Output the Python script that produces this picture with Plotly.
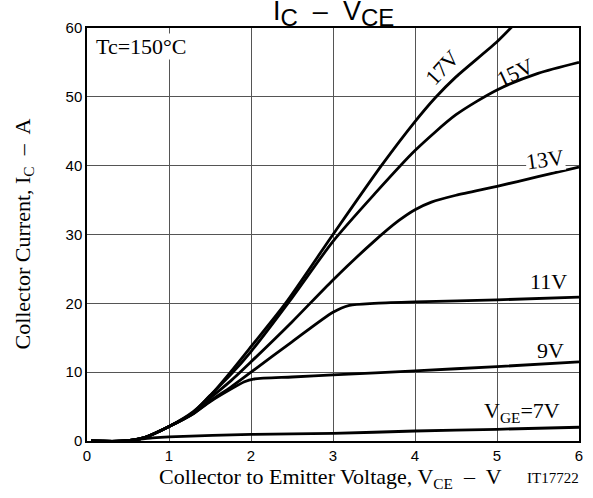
import plotly.graph_objects as go

# ---- data ----
x_17 = [0.05, 0.45, 0.7, 1.0, 1.3, 1.55, 1.75, 2.0, 2.42, 3.0, 3.59, 4.0, 4.25, 4.5, 5.0, 5.2]
y_17 = [0.0, 0.0, 0.5, 2.1, 4.3, 7.2, 10.0, 13.7, 20.0, 30.0, 40.0, 46.4, 49.9, 52.9, 58.0, 60.4]

x_15 = [0.05, 0.45, 0.7, 1.0, 1.3, 1.5, 1.75, 2.0, 2.5, 3.0, 3.5, 4.0, 4.5, 5.0, 5.5, 6.0]
y_15 = [0.0, 0.0, 0.5, 2.1, 4.2, 6.6, 9.6, 13.0, 20.8, 29.0, 35.8, 42.2, 47.4, 51.0, 53.4, 55.0]

x_13 = [0.05, 0.45, 0.7, 1.0, 1.3, 1.5, 1.75, 2.0, 2.5, 3.0, 3.5, 3.8, 4.0, 4.2, 4.5, 5.0, 5.5, 6.0]
y_13 = [0.0, 0.0, 0.5, 2.1, 4.1, 6.2, 8.7, 11.5, 17.3, 23.4, 29.0, 32.0, 33.6, 34.7, 35.7, 37.0, 38.4, 39.8]

x_11 = [0.05, 0.45, 0.7, 1.0, 1.3, 1.5, 1.75, 2.0, 2.5, 3.0, 3.2, 3.5, 4.0, 5.0, 6.0]
y_11 = [0.0, 0.0, 0.5, 2.1, 4.0, 5.8, 7.8, 10.0, 14.4, 18.7, 19.7, 20.0, 20.2, 20.5, 20.9]

x_9 = [0.05, 0.45, 0.7, 1.0, 1.3, 1.5, 1.75, 1.92, 2.03, 2.5, 3.0, 4.0, 5.0, 6.0]
y_9 = [0.0, 0.0, 0.5, 2.1, 4.0, 5.7, 7.5, 8.6, 9.0, 9.3, 9.6, 10.2, 10.8, 11.5]

x_7 = [0.05, 0.45, 0.6, 0.8, 1.0, 2.0, 3.0, 4.0, 5.0, 6.0]
y_7 = [0.0, 0.0, 0.2, 0.45, 0.6, 0.95, 1.1, 1.45, 1.7, 2.0]

x_ticks = [0, 1, 2, 3, 4, 5, 6]
y_ticks = [0, 10, 20, 30, 40, 50, 60]

series = [(x_17, y_17), (x_15, y_15), (x_13, y_13), (x_11, y_11), (x_9, y_9), (x_7, y_7)]

SERIF = "Liberation Serif"
SANS = "Liberation Sans"
SZ = 22

fig = go.Figure()
for xs, ys in series:
    fig.add_trace(go.Scatter(x=xs, y=ys, mode="lines",
                             line=dict(color="black", width=2.8, shape="spline", smoothing=0.7),
                             showlegend=False, hoverinfo="skip"))

# curve labels
labels = [
    ("17V", 4.33, 54.3, -47, None),
    ("15V", 5.22, 53.6, -25, None),
    ("13V", 5.58, 40.9, -8, "white"),
    ("11V", 5.63, 23.1, 0, None),
    ("9V", 5.65, 13.1, 0, None),
    ("V<sub>GE</sub>=7V", 5.31, 4.2, 0, None),
]
for txt, lx, ly, ang, bg in labels:
    fig.add_annotation(x=lx, y=ly, xref="x", yref="y", text=txt, showarrow=False,
                       textangle=ang, font=dict(family=SERIF, size=SZ, color="black"),
                       bgcolor=bg, borderpad=0, xanchor="center", yanchor="middle")

fig.add_annotation(x=0.66, y=57.3, xref="x", yref="y", text="Tc=150°C", showarrow=False,
                   font=dict(family=SERIF, size=SZ, color="black"), bgcolor="white", borderpad=0,
                   xanchor="center", yanchor="middle")

# title
fig.add_annotation(x=0.5, y=1.036, xref="paper", yref="paper",
                   text="I<sub><span style='font-size:24px'>C</span></sub>  –  V<sub><span style='font-size:24px'>CE</span></sub>",
                   showarrow=False,
                   font=dict(family=SANS, size=27, color="black"), xanchor="center", yanchor="middle")

# axis titles
fig.add_annotation(x=-0.13, y=0.5, xref="paper", yref="paper",
                   text="Collector Current, I<sub>C</sub>  –  A", showarrow=False, textangle=-90,
                   font=dict(family=SERIF, size=SZ, color="black"), xanchor="center", yanchor="middle")
fig.add_annotation(x=0.495, y=-0.09, xref="paper", yref="paper",
                   text="Collector to Emitter Voltage, V<sub>CE</sub>  –  V", showarrow=False,
                   font=dict(family=SERIF, size=SZ, color="black"), xanchor="center", yanchor="middle")
fig.add_annotation(x=0.947, y=-0.09, xref="paper", yref="paper",
                   text="IT17722", showarrow=False,
                   font=dict(family=SERIF, size=15, color="black"), xanchor="center", yanchor="middle")

axis_common = dict(showgrid=True, gridcolor="#555555", gridwidth=1.2, zeroline=False,
                   showline=True, linecolor="black", linewidth=1.5, mirror=True,
                   ticks="", tickfont=dict(family=SANS, size=15, color="black"))

fig.update_xaxes(range=[0, 6], tickvals=x_ticks, ticktext=[str(v) for v in x_ticks], **axis_common)
fig.update_yaxes(range=[0, 60], tickvals=y_ticks, ticktext=[str(v) for v in y_ticks], **axis_common)

fig.update_layout(width=593, height=498, margin=dict(l=86.5, r=10, t=28, b=57),
                  paper_bgcolor="white", plot_bgcolor="white")

fig.write_html("out.html", config={"displayModeBar": False},
               post_script="document.body.style.margin='0';")
